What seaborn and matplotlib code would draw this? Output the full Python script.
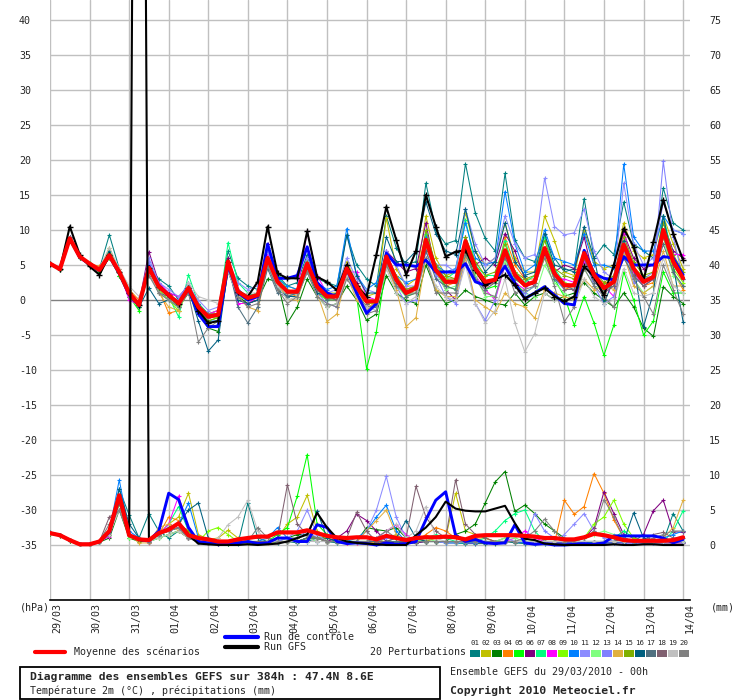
import matplotlib
matplotlib.use("Agg")
import matplotlib.pyplot as plt
import seaborn as sns
import pandas as pd
from matplotlib.lines import Line2D
from matplotlib.patches import Rectangle

sns.set_theme(style="white")
plt.rcParams["font.family"] = ["DejaVu Sans Mono", "DejaVu Sans"]

# ---------------- data ----------------
hours = list(range(0, 385, 6))
day_labels = ["29/03", "30/03", "31/03", "01/04", "02/04", "03/04", "04/04", "05/04",
              "06/04", "07/04", "08/04", "09/04", "10/04", "11/04", "12/04", "13/04", "14/04"]
pert_names = ["01", "02", "03", "04", "05", "06", "07", "08", "09", "10",
              "11", "12", "13", "14", "15", "16", "17", "18", "19", "20"]
pert_colors = ["#008080", "#c0c000", "#008000", "#ff8000", "#00ff00", "#800080", "#00ff80",
               "#ff00ff", "#80ff00", "#0080ff", "#8c8cff", "#80ff80", "#8080ff", "#e0b040",
               "#80b000", "#006080", "#507080", "#806070", "#c0c0c0", "#808080"]

# temperature 2m (°C), 6-hourly
temp_mean = [5.2,4.4,8.8,6.2, 5.2,4.3,6.4,4.0, 1.0,-0.7,4.6,1.9, 0.7,-0.5,1.7,-1.0,
             -2.4,-2.1,5.5,1.2, 0.3,0.7,6.0,2.6, 1.2,1.2,5.2,1.9, 0.5,0.5,4.5,1.9,
             -0.2,-0.2,6.2,2.9, 1.0,1.7,8.6,4.3, 2.6,2.6,8.4,4.5, 2.6,2.9,7.1,3.6,
             2.1,2.6,7.4,3.8, 2.1,2.1,6.7,3.6, 1.7,2.6,7.9,4.5, 2.6,3.3,10.0,5.5, 3.1]
temp_ctrl = [5.2,4.4,8.8,6.1, 5.1,4.2,6.3,3.8, 0.8,-0.8,4.8,2.0, 0.6,-0.5,1.6,-2.0,
             -3.8,-3.8,5.0,1.0, 0.0,0.5,8.0,3.1, 3.1,3.5,7.6,2.5, 1.0,0.5,4.5,1.0,
             -1.9,-0.5,6.7,5.0, 5.0,4.8,5.7,4.0, 4.0,4.0,5.2,2.6, 2.1,2.9,4.8,2.4,
             0.2,1.0,1.9,0.7, -0.5,-0.7,7.1,3.8, 3.1,2.9,6.2,5.0, 5.0,5.0,6.2,6.0, 3.6]
temp_gfs = [5.2,4.4,10.5,6.5, 4.8,3.6,6.4,4.0, 1.0,-0.7,4.6,1.9, 0.7,-0.5,1.7,-1.5,
            -3.3,-3.0,5.5,1.2, 0.5,2.6,10.5,3.8, 3.1,3.1,9.8,3.3, 2.6,1.4,5.0,2.0,
            0.5,6.5,13.3,8.6, 3.6,7.0,15.0,10.5, 6.2,6.9,7.1,4.3, 2.1,2.9,3.6,2.1,
            0.2,1.0,1.7,0.5, -0.2,0.5,4.8,3.3, 0.7,5.0,10.2,7.6, 2.9,8.3,14.3,9.5, 5.7]

temp_p01 = [5.2,4.5,9.0,6.0, 5.0,4.5,9.3,4.5, 1.5,-0.5,5.0,3.0, 2.0,0.0,2.5,-1.0,
            -2.0,-1.5,7.0,3.1, 2.0,1.5,7.5,3.5, 2.0,2.5,6.5,3.0, 2.5,2.0,9.3,5.0,
            3.0,2.0,12.0,7.5, 5.0,5.5,16.7,10.0, 8.0,8.5,19.5,12.4, 8.8,7.0,18.1,8.6,
            6.0,5.5,9.0,6.0, 4.0,4.5,14.5,6.0, 7.9,6.5,14.0,8.0, 7.0,6.0,16.0,11.0, 10.0]
temp_p02 = [5.2,4.5,8.5,6.0, 5.0,4.2,7.5,4.0, 1.0,-0.5,4.5,2.0, 1.0,-1.0,2.0,-0.5,
            -2.0,-1.5,5.0,1.5, 0.5,1.0,6.5,3.0, 2.0,1.5,6.0,2.5, 1.0,1.0,5.5,2.5,
            0.5,1.0,11.7,4.5, 2.0,3.0,12.0,6.0, 3.5,4.0,12.5,7.0, 5.0,6.0,11.0,6.0,
            4.0,4.0,12.0,8.5, 4.0,3.5,10.0,5.5, 4.5,5.0,11.0,7.0, 6.0,6.5,12.0,8.0, 4.5]
temp_p03 = [5.2,4.3,8.5,6.0, 5.0,4.0,6.0,3.5, 0.5,-1.0,4.0,1.0, 0.0,-1.0,1.0,-2.0,
            -4.0,-4.5,4.0,0.5, -0.5,0.0,3.0,2.6, -3.3,-1.0,3.0,0.5, -1.0,-0.5,2.0,0.0,
            -2.9,-2.0,3.5,1.0, 0.0,-0.5,5.0,1.5, -0.5,0.0,1.4,0.5, 0.0,-0.5,-0.7,1.0,
            -0.7,0.5,1.0,0.0, 0.5,1.0,2.5,1.0, 0.0,-1.0,1.0,-1.0, -4.0,-5.2,1.9,0.5, -0.5]
temp_p04 = [5.2,4.4,8.8,6.2, 5.2,4.8,6.5,4.5, 1.5,0.0,4.0,1.5, -1.9,-1.5,2.0,-1.0,
            -2.5,-2.0,5.0,1.0, 0.0,0.5,5.5,2.5, 1.0,0.5,4.5,1.5, 0.5,0.0,4.0,2.0,
            -1.5,0.0,5.5,3.0, 0.5,1.5,7.5,4.0, 2.0,2.5,8.0,4.0, 2.0,2.5,9.0,5.0,
            3.0,3.0,6.0,4.0, 1.5,2.0,5.5,3.0, 2.5,2.5,7.0,4.0, 2.0,2.5,9.0,4.0, 1.5]
temp_p05 = [5.2,4.5,8.8,6.3, 5.3,4.0,7.0,3.5, 0.5,-1.5,4.5,2.0, 0.5,-1.0,2.0,-1.5,
            -3.0,-2.5,6.0,1.0, 0.5,1.0,5.5,2.0, 0.5,0.5,4.5,1.0, 0.0,1.0,4.0,0.5,
            -9.8,-4.5,5.0,2.0, 1.5,2.0,9.0,4.0, 2.0,1.5,7.0,3.0, 1.5,2.0,6.0,2.5,
            1.0,2.0,7.0,3.0, 0.5,-3.6,0.5,-3.3, -7.9,-3.6,4.0,0.0, -5.0,-3.0,4.0,1.0, 1.0]
temp_p06 = [5.2,4.4,9.0,6.3, 5.2,4.5,6.5,4.0, 1.0,-0.5,6.9,2.5, 1.0,0.5,2.0,-0.5,
            -2.0,-2.0,6.0,0.0, -0.5,0.0,8.0,3.0, 1.0,1.5,6.0,2.5, 0.5,0.0,5.0,2.5,
            0.0,-0.5,7.0,5.5, 4.0,4.5,11.0,4.0, 1.5,0.0,9.0,5.0, 6.0,5.0,9.5,7.0,
            3.0,2.0,6.5,4.0, 5.0,4.5,9.0,3.0, 0.5,3.5,9.5,6.0, 4.5,5.0,11.0,7.0, 6.0]
temp_p07 = [5.2,4.4,8.7,6.2, 5.2,4.4,6.8,4.0, 1.0,-1.0,5.0,1.5, 0.5,-2.4,3.6,-0.5,
            -2.0,-2.0,8.2,2.5, 1.0,0.5,6.5,3.5, 1.5,1.0,5.5,2.0, 0.0,0.5,4.5,2.0,
            0.0,-0.5,6.5,3.0, 1.0,2.0,9.5,5.0, 3.0,4.0,11.5,5.0, 3.5,3.5,8.5,4.0,
            2.5,3.5,9.0,4.5, 2.5,2.0,6.0,3.5, 2.0,2.5,7.5,4.0, 3.0,3.5,12.0,6.0, 3.0]
temp_p08 = [5.2,4.4,8.8,6.2, 5.2,4.4,6.5,4.0, 0.0,-0.7,5.0,2.5, 1.0,0.5,1.5,-1.0,
            -2.0,-1.5,5.0,-0.5, -0.5,0.5,6.5,2.5, 1.0,1.5,9.8,3.5, 1.0,0.5,4.0,4.0,
            0.5,0.0,7.0,3.0, 1.5,2.0,8.0,4.5, 3.0,3.0,8.0,3.5, 1.5,0.0,5.0,2.5,
            1.5,3.0,7.5,3.0, 3.0,2.5,5.5,3.5, 2.0,0.5,10.0,4.0, 2.0,3.0,9.0,6.5, 6.5]
temp_p09 = [5.2,4.4,8.8,6.2, 5.2,4.4,6.0,4.0, 1.0,-1.0,4.0,1.5, 0.0,-1.5,1.5,-1.5,
            -2.5,-2.0,5.0,0.5, 0.0,0.5,5.0,2.0, 0.5,1.0,4.5,1.0, 0.0,0.0,3.5,1.5,
            -0.5,-0.5,6.0,3.0, 0.5,1.0,8.0,4.5, 3.0,3.0,7.5,4.0, 2.5,3.0,7.0,3.0,
            2.0,2.5,6.0,3.0, 2.5,2.0,6.5,4.0, 1.0,3.0,7.0,4.5, 3.5,3.0,9.0,4.5, 2.5]
temp_p10 = [5.2,4.4,8.8,6.2, 5.2,4.4,6.5,4.0, 1.0,-0.5,5.0,2.0, 0.5,0.0,2.0,-0.5,
            -3.0,-3.0,5.5,1.5, 0.5,1.0,6.0,3.0, 2.0,1.5,6.0,2.5, 1.5,2.0,10.2,3.5,
            1.5,2.5,6.5,3.5, 2.5,3.0,9.0,5.0, 4.0,4.5,11.0,6.0, 5.0,5.5,15.5,8.0,
            4.0,5.0,10.0,6.0, 5.5,5.0,9.5,5.0, 5.0,4.5,19.4,9.0, 7.0,7.0,12.0,10.0, 9.5]
temp_p11 = [5.2,4.4,8.8,6.2, 5.2,4.4,6.5,4.0, 1.0,-0.5,6.0,2.5, 1.5,0.5,2.0,0.0,
            -1.5,-1.0,5.5,2.5, 1.5,2.0,7.0,2.5, 1.0,1.5,6.0,2.0, 1.0,1.5,6.0,3.0,
            1.5,1.0,7.0,5.0, 2.0,2.0,8.0,5.0, 5.0,4.0,13.0,8.0, 5.0,6.0,12.0,8.0,
            6.0,6.5,17.4,10.5, 9.3,9.6,13.0,7.0, 4.0,3.0,16.7,8.0, 5.0,6.0,14.0,10.0, 9.5]
temp_p12 = [5.2,4.4,8.8,6.2, 5.2,4.4,6.5,4.0, 1.0,-1.0,4.5,1.5, 0.5,-0.5,1.5,-1.0,
            -2.5,-2.5,5.0,1.0, 0.0,0.5,5.5,2.0, 0.5,1.0,5.0,2.0, 0.5,0.5,4.0,1.5,
            0.0,0.0,5.5,2.0, 0.5,1.5,8.0,4.0, 1.5,2.0,7.0,3.5, 0.5,0.5,5.5,2.0,
            1.0,0.5,5.0,2.5, 1.0,0.0,4.5,2.0, 1.5,2.0,6.5,3.0, 1.0,2.0,9.0,3.5, 2.0]
temp_p13 = [5.2,4.4,8.8,6.2, 5.2,4.4,6.5,4.0, 1.0,-0.5,5.5,2.0, 0.5,0.0,2.5,-1.0,
            -2.5,-2.0,5.5,1.5, 0.0,0.5,6.0,2.0, 0.5,1.0,5.0,1.0, -0.5,-1.0,4.0,0.5,
            -1.5,-1.0,5.0,2.0, -0.5,0.0,7.0,3.5, 0.5,-0.5,6.0,-0.5, -2.9,0.0,6.5,2.0,
            1.0,2.0,7.0,3.0, 1.5,1.5,6.0,2.0, -0.5,0.5,7.0,2.5, 3.0,4.0,19.8,9.0, 3.0]
temp_p14 = [5.2,4.4,8.8,6.2, 5.2,4.4,6.5,3.8, 1.5,-0.5,4.0,1.0, -1.0,-1.5,2.0,-1.0,
            -2.0,-2.0,4.5,0.5, -1.0,-1.5,5.0,2.5, 0.0,0.0,4.5,1.0, -3.1,-2.0,3.5,0.0,
            -1.0,-0.5,5.0,1.5, -3.8,-2.5,6.0,1.5, 0.5,0.5,6.0,0.0, -1.0,-1.9,1.0,-0.5,
            -1.0,-2.6,1.5,1.0, 0.5,0.0,3.0,1.5, 2.0,1.5,6.5,2.0, 1.0,2.0,7.0,2.0, 2.0]
temp_p15 = [5.2,4.4,8.8,6.2, 5.2,4.4,6.5,4.0, 1.0,-1.0,4.5,2.0, 0.5,-0.5,1.5,-1.5,
            -3.0,-2.5,5.0,1.0, 0.5,1.0,5.5,2.5, 1.0,1.0,5.5,2.0, 1.0,0.5,4.5,2.0,
            -0.5,0.0,6.5,3.5, 1.5,2.0,10.0,5.0, 3.5,3.0,9.0,5.5, 3.5,4.0,8.0,4.0,
            3.0,3.5,8.5,4.5, 3.5,3.0,7.0,4.0, 2.5,3.5,9.0,5.5, 3.5,4.0,11.0,6.5, 4.0]
temp_p16 = [5.2,4.4,8.8,6.2, 5.2,4.4,7.0,4.0, 1.0,-1.0,1.7,-0.5, 0.0,-1.0,1.5,-3.0,
            -7.3,-5.7,4.5,0.0, -0.5,0.0,5.0,1.5, 0.5,0.5,4.0,1.0, 0.5,1.0,9.3,3.5,
            1.0,1.0,9.0,5.5, 5.5,7.0,14.0,9.5, 7.0,6.5,13.0,7.0, 4.0,5.5,11.0,5.5,
            3.5,4.0,9.5,5.0, 4.5,4.0,10.5,6.0, -0.5,3.0,8.5,5.0, -3.8,1.0,12.0,5.0, -3.1]
temp_p17 = [5.2,4.4,8.8,6.2, 5.2,4.4,6.5,4.0, 1.0,-0.5,4.0,1.0, 0.5,-0.5,1.0,-1.0,
            -4.0,-3.5,5.0,-1.0, -3.3,-1.0,4.5,1.0, 0.5,1.0,4.5,1.5, 0.0,0.0,4.0,1.0,
            -1.0,-1.0,5.5,2.5, 0.5,1.0,7.0,3.0, 2.0,1.5,7.5,3.0, 1.5,2.5,7.0,3.0,
            2.0,2.5,7.0,3.0, 2.0,1.5,6.0,2.5, 1.5,2.0,6.0,3.5, 2.0,3.0,8.0,4.0, 2.0]
temp_p18 = [5.2,4.4,8.8,6.2, 5.2,4.4,6.5,4.0, 1.0,-0.5,4.5,2.0, 0.5,-0.5,1.5,-1.0,
            -2.0,-2.0,5.5,1.0, 0.5,0.5,6.0,2.5, 1.0,1.0,5.0,1.5, 0.5,0.0,4.5,1.5,
            -0.5,0.0,6.0,3.0, 1.0,1.5,8.5,4.0, 2.5,2.5,8.0,4.5, 2.5,3.0,6.0,3.5,
            2.0,2.5,7.5,3.5, 1.5,1.5,6.0,3.0, 1.0,2.0,7.5,3.5, 2.0,3.0,9.0,5.0, 3.0]
temp_p19 = [5.2,4.4,8.8,6.2, 5.2,4.6,7.5,4.5, 2.0,0.5,4.0,1.0, 0.0,-1.0,2.5,0.5,
            0.0,-0.5,4.0,0.5, 1.0,1.0,5.0,2.0, 0.0,0.5,4.0,0.5, -1.0,-0.5,3.5,0.5,
            -1.0,-1.5,4.5,1.0, -0.5,0.5,6.0,2.0, 0.5,0.0,5.0,-0.5, -3.3,-1.5,3.0,-3.3,
            -7.4,-4.8,1.0,0.0, 0.0,-1.0,3.0,0.5, -0.5,0.0,4.5,1.0, 0.5,1.0,6.0,2.0, 1.0]
temp_p20 = [5.2,4.4,8.8,6.2, 5.2,4.4,6.5,4.0, 1.0,-0.5,3.5,1.0, 0.0,-1.0,1.0,-6.0,
            -4.0,-3.0,4.5,0.5, -1.0,-0.5,5.0,1.5, -0.5,0.5,4.0,0.5, -0.5,-1.0,3.0,1.0,
            -2.0,-1.5,5.0,2.0, 1.0,1.0,6.0,1.0, 1.0,1.0,6.5,3.0, 1.0,0.5,5.0,1.0,
            1.5,2.0,6.0,2.0, -3.1,-1.0,4.5,2.0, 0.5,-1.0,8.0,3.0, 0.5,-2.0,5.0,1.5, -2.0]

# precipitation (mm / 6h)
prec_mean = [1.7,1.4,0.7,0.1, 0.1,0.5,2.0,7.1, 1.4,0.8,0.7,1.7, 2.2,3.1,1.4,1.0,
             0.8,0.5,0.5,0.8, 1.0,1.2,1.2,1.8, 1.8,1.8,2.1,1.7, 1.3,1.1,1.0,1.1,
             1.1,0.8,1.3,1.0, 0.7,1.0,1.1,1.1, 1.2,1.1,0.8,1.3, 1.4,1.4,1.4,1.4,
             1.3,1.2,1.0,1.0, 0.8,0.8,1.1,1.6, 1.4,1.1,0.7,0.6, 0.6,0.6,0.6,0.7, 1.1]
prec_ctrl = [1.7,1.4,0.7,0.1, 0.1,0.5,1.8,7.0, 1.4,0.8,0.6,2.0, 7.4,6.5,2.5,0.5,
             0.3,0.2,0.3,0.3, 0.5,0.2,0.3,1.0, 1.0,0.5,0.5,2.9, 2.5,0.5,0.2,0.3,
             0.2,0.0,0.3,0.1, 0.2,0.5,3.6,6.4, 7.6,1.4,0.5,0.8, 0.3,0.2,0.3,2.9,
             0.3,0.1,0.2,0.0, 0.0,0.1,0.2,0.1, 0.3,1.3,1.3,1.3, 1.3,1.3,1.0,0.3, 0.8]
prec_gfs = [1.7,1.4,0.7,0.1, 0.1,0.5,2.0,7.1, 1.4,257.0,0.7,1.7, 2.2,3.1,1.4,0.2,
            0.1,0.0,0.0,0.0, 0.1,0.0,0.1,0.2, 0.5,1.0,1.5,4.6, 2.5,1.0,0.5,0.3,
            0.2,0.1,0.0,0.0, 0.0,1.4,2.5,4.0, 6.2,5.2,4.9,4.8, 4.8,5.2,5.6,3.1,
            0.9,0.7,0.2,0.1, 0.0,0.0,0.0,0.0, 0.0,0.1,0.0,0.0, 0.1,0.1,0.0,0.0, 0.0]

prec_p01 = [1.8,1.5,0.6,0.1, 0.1,0.5,2.0,8.0, 4.3,1.0,4.5,2.0, 1.0,2.0,1.0,0.5,
            0.3,0.2,0.2,0.2, 6.0,1.0,0.5,0.3, 0.5,0.3,0.5,1.0, 0.5,0.3,0.3,0.5,
            0.3,0.2,0.5,0.3, 0.2,0.3,0.5,0.5, 0.3,0.3,0.2,0.2, 0.2,0.2,0.5,0.3,
            0.2,0.1,0.2,0.1, 0.2,0.3,0.5,0.5, 0.5,0.5,1.0,0.5, 1.5,0.5,0.5,4.5, 2.0]
prec_p02 = [1.6,1.3,0.6,0.1, 0.1,0.6,1.5,6.0, 1.5,0.8,0.5,1.5, 3.0,4.0,7.4,1.5,
            0.8,1.0,2.1,1.0, 0.5,0.3,0.5,1.0, 3.0,4.0,7.1,2.0, 0.5,0.5,0.5,0.5,
            0.3,0.3,1.0,1.5, 0.5,0.5,0.5,1.0, 1.0,7.4,2.0,1.5, 1.0,0.5,0.5,0.5,
            0.3,0.3,0.5,0.5, 0.3,0.3,0.5,0.3, 0.3,0.5,0.5,0.5, 0.3,0.3,0.3,0.3, 0.3]
prec_p03 = [1.6,1.3,0.6,0.1, 0.1,0.4,1.0,5.0, 1.0,0.5,0.5,1.0, 1.5,2.0,1.0,0.5,
            0.3,0.2,0.2,0.3, 0.5,0.5,0.5,1.0, 1.0,1.5,1.5,1.0, 1.0,0.5,0.5,0.5,
            2.5,2.2,2.0,2.5, 1.0,1.0,0.5,0.5, 0.5,1.5,2.0,3.0, 6.0,9.0,10.5,4.8,
            5.7,4.5,3.0,2.0, 1.0,0.5,0.5,0.3, 0.3,0.3,0.5,0.5, 0.3,0.3,0.3,0.3, 0.3]
prec_p04 = [1.7,1.4,0.7,0.1, 0.1,0.5,1.5,6.5, 1.5,1.0,0.5,1.5, 4.0,3.5,1.0,0.5,
            0.3,0.2,0.3,0.3, 0.5,0.5,0.5,0.5, 0.5,0.5,1.0,1.0, 0.5,0.5,0.3,0.3,
            0.3,0.3,0.5,0.5, 0.5,0.5,1.5,2.5, 2.0,1.0,0.5,1.0, 1.0,0.5,0.5,0.5,
            0.5,0.5,0.5,0.3, 6.4,4.4,5.5,10.2, 7.4,3.6,1.0,0.5, 0.5,0.3,0.3,0.3, 0.3]
prec_p05 = [1.7,1.4,0.7,0.1, 0.1,0.5,1.5,6.0, 1.0,0.8,0.5,1.0, 1.5,2.0,1.5,0.5,
            0.3,0.3,0.5,0.5, 0.5,0.5,0.5,1.5, 2.5,7.0,12.9,3.0, 1.5,1.0,0.5,0.5,
            0.5,0.5,0.5,0.3, 0.3,0.5,0.5,0.5, 0.5,0.3,0.3,0.3, 0.3,0.3,0.5,0.5,
            0.5,0.3,0.3,0.5, 0.3,0.3,0.3,0.5, 0.5,0.5,0.5,0.5, 0.3,0.3,0.3,0.3, 0.5]
prec_p06 = [1.7,1.4,0.7,0.1, 0.1,0.5,1.5,7.0, 1.5,0.8,0.5,1.5, 2.0,2.5,1.0,0.5,
            0.3,0.3,0.3,0.3, 0.5,0.3,0.5,0.5, 0.5,0.5,1.0,1.0, 0.5,1.0,2.0,4.4,
            3.5,2.0,0.5,0.3, 0.3,0.3,0.5,0.5, 0.5,0.5,0.3,0.3, 0.3,0.3,0.5,0.5,
            0.3,0.3,0.3,0.3, 0.3,0.5,1.0,2.5, 7.6,4.5,1.5,1.0, 1.5,4.9,6.4,1.9, 1.8]
prec_p07 = [1.7,1.4,0.7,0.1, 0.1,0.5,1.5,6.5, 1.5,0.8,0.5,1.5, 3.0,5.5,2.0,0.5,
            0.3,0.3,0.3,0.5, 0.5,0.5,0.5,0.5, 0.5,0.5,1.0,1.0, 0.5,0.5,0.5,0.5,
            0.5,0.5,0.5,0.5, 0.5,0.5,1.0,1.5, 1.0,0.5,0.5,0.5, 1.0,2.0,3.5,4.5,
            5.0,2.0,0.5,0.5, 0.5,0.5,0.5,0.5, 0.5,1.0,2.0,1.0, 0.5,0.5,0.5,2.0, 4.9]
prec_p08 = [1.7,1.4,0.7,0.1, 0.1,0.5,1.2,6.0, 1.5,0.8,0.3,1.5, 3.0,7.0,2.5,0.5,
            0.3,0.2,0.3,0.3, 0.3,0.3,0.5,0.5, 0.5,0.5,1.0,0.5, 0.5,0.5,0.3,0.3,
            0.5,1.0,2.0,2.9, 1.5,0.5,0.5,0.5, 0.5,0.5,0.3,0.3, 0.5,0.5,0.5,1.0,
            2.0,1.0,0.5,0.3, 0.3,0.3,0.5,0.5, 0.3,0.3,0.3,0.3, 0.3,0.3,0.3,0.3, 0.3]
prec_p09 = [1.7,1.4,0.7,0.1, 0.1,0.5,1.5,6.5, 1.5,0.8,0.5,1.5, 2.0,3.0,2.0,0.5,
            2.0,2.5,1.5,0.5, 0.3,0.5,0.5,0.5, 1.0,1.0,1.5,1.0, 0.5,0.5,0.5,0.5,
            0.5,0.5,0.5,0.5, 0.5,0.5,0.5,0.5, 0.5,0.5,0.3,0.5, 0.5,0.5,1.0,1.5,
            1.0,0.5,0.5,0.5, 0.5,0.5,1.0,3.0, 4.0,6.4,3.0,1.0, 0.5,0.5,0.5,0.5, 0.5]
prec_p10 = [1.7,1.4,0.7,0.1, 0.1,0.5,2.0,9.3, 2.0,1.0,0.5,1.5, 2.5,3.0,6.0,1.0,
            0.3,0.2,0.3,0.3, 0.5,0.5,1.0,2.5, 1.0,0.5,0.5,0.5, 0.5,0.5,0.5,1.0,
            2.0,4.0,5.7,2.0, 0.5,0.5,0.5,0.5, 0.3,0.3,0.3,0.3, 0.5,0.5,0.5,0.5,
            0.3,0.3,0.3,0.3, 0.3,0.3,0.3,0.3, 0.3,0.3,0.3,0.3, 0.3,0.3,1.0,1.5, 2.0]
prec_p11 = [1.7,1.4,0.7,0.1, 0.1,0.5,1.5,6.5, 1.5,0.8,0.5,1.5, 2.0,2.5,1.0,0.5,
            0.3,0.3,0.3,0.3, 0.3,0.3,0.5,0.5, 1.0,2.0,5.0,1.5, 0.5,0.5,0.5,0.5,
            2.0,5.0,9.8,4.0, 1.0,0.5,0.5,0.5, 0.3,0.3,0.5,0.5, 0.5,0.5,1.0,0.5,
            0.5,0.3,0.3,0.5, 1.5,3.0,4.5,2.0, 1.0,0.5,0.5,0.5, 0.3,0.3,0.3,0.3, 0.3]
prec_p12 = [1.7,1.4,0.7,0.1, 0.1,0.5,1.5,6.0, 1.0,0.8,0.5,1.0, 1.5,2.0,1.5,0.5,
            0.3,0.3,0.3,0.3, 0.3,0.3,0.5,0.5, 0.5,0.5,1.0,0.5, 0.5,0.5,0.5,0.5,
            0.5,0.5,0.5,0.5, 0.5,0.5,1.0,0.5, 0.5,0.5,0.5,0.5, 0.5,0.5,1.0,1.0,
            0.5,0.5,0.5,0.5, 0.5,0.5,1.0,1.5, 2.0,1.5,1.0,0.5, 0.5,0.5,0.5,0.5, 0.5]
prec_p13 = [1.7,1.4,0.7,0.1, 0.1,0.5,1.5,7.0, 1.5,0.8,0.5,1.5, 2.5,3.0,1.0,0.5,
            0.3,0.3,0.3,0.3, 0.5,0.5,0.5,0.5, 1.0,1.0,2.0,1.0, 0.5,0.5,0.5,0.5,
            0.5,0.5,1.0,1.0, 0.5,0.5,0.5,0.5, 0.5,0.5,0.5,0.5, 0.5,0.5,0.5,0.5,
            0.5,4.5,2.0,1.0, 0.5,0.5,0.5,0.5, 0.5,0.5,0.5,0.5, 0.5,0.5,0.5,0.5, 0.5]
prec_p14 = [1.7,1.4,0.7,0.1, 0.1,0.5,1.5,6.0, 1.5,0.3,0.3,2.5, 3.0,2.0,1.0,0.5,
            0.3,0.3,0.3,0.3, 0.3,0.3,0.3,0.5, 0.5,1.0,1.5,1.0, 0.5,0.5,0.5,0.5,
            2.0,3.5,5.0,1.5, 0.5,0.5,0.5,0.5, 0.5,0.5,0.5,0.5, 0.5,0.5,0.5,0.5,
            0.5,0.5,0.5,0.5, 0.5,0.5,0.5,0.5, 0.5,0.5,0.5,0.5, 0.5,0.5,1.0,2.5, 6.4]
prec_p15 = [1.7,1.4,0.7,0.1, 0.1,0.5,1.5,6.0, 1.5,0.8,0.5,1.5, 2.5,3.0,2.0,0.5,
            0.3,0.3,0.3,0.3, 0.3,0.5,0.5,0.5, 0.5,0.5,1.0,1.0, 0.5,0.5,0.5,0.5,
            0.5,0.5,0.5,0.5, 0.5,0.5,0.5,0.5, 0.5,0.5,0.5,0.5, 0.5,0.5,0.5,0.5,
            0.5,0.5,0.5,0.5, 0.5,0.5,0.5,0.5, 0.5,0.5,0.5,0.5, 0.5,0.5,0.5,0.5, 0.5]
prec_p16 = [1.7,1.4,0.7,0.1, 0.1,0.5,2.0,8.0, 3.0,1.0,0.5,1.5, 2.5,3.0,5.0,6.0,
            1.0,0.3,0.3,0.3, 0.5,0.5,0.5,0.5, 0.5,0.5,1.0,4.9, 1.0,0.5,0.5,0.5,
            0.5,0.5,0.5,1.0, 3.5,1.0,0.5,0.5, 0.5,0.5,0.5,0.5, 0.5,0.5,0.5,0.5,
            0.5,0.5,0.5,0.5, 0.5,0.5,0.5,0.5, 0.5,0.5,0.5,4.6, 1.0,0.5,0.5,0.5, 0.5]
prec_p17 = [1.7,1.4,0.7,0.1, 0.1,0.5,1.5,6.0, 1.5,0.8,0.5,1.5, 2.0,2.5,1.0,0.5,
            0.3,0.3,0.3,0.3, 0.5,0.5,0.5,0.5, 0.5,0.5,1.0,1.0, 0.5,0.5,0.5,0.5,
            0.5,0.5,0.5,0.5, 0.5,0.5,0.5,0.5, 0.5,0.5,0.5,0.5, 0.5,0.5,0.5,0.5,
            0.5,0.5,0.5,0.5, 0.5,0.5,0.5,0.5, 0.5,0.5,0.5,0.5, 0.5,0.5,0.5,0.5, 0.5]
prec_p18 = [1.7,1.4,0.7,0.1, 0.1,0.5,4.0,5.0, 1.5,0.8,0.5,1.5, 2.0,2.5,1.0,0.5,
            0.3,0.3,0.3,0.3, 0.5,0.5,0.5,1.0, 8.6,3.0,1.5,1.0, 0.5,0.5,1.0,4.7,
            2.0,0.5,0.5,1.0, 1.0,8.4,4.0,2.0, 1.0,9.3,3.0,1.5, 1.0,0.5,0.5,0.5,
            0.5,0.5,0.5,0.5, 0.5,0.5,0.5,0.5, 0.5,0.5,1.0,0.5, 0.5,1.5,1.8,1.0, 1.0]
prec_p19 = [1.7,1.4,0.7,0.1, 0.1,0.5,1.5,5.0, 1.5,0.8,0.5,1.0, 1.5,2.0,1.0,0.5,
            0.5,1.0,2.9,4.0, 6.4,2.0,0.5,0.5, 0.5,0.5,0.5,0.5, 0.5,0.5,0.5,0.5,
            0.5,1.0,2.0,3.0, 1.0,2.0,5.5,1.0, 0.5,0.5,0.5,0.5, 0.5,0.5,0.5,0.5,
            0.5,0.5,0.5,0.5, 0.5,0.5,0.5,0.5, 0.5,0.5,0.5,0.5, 0.5,0.5,0.5,0.5, 0.5]
prec_p20 = [1.7,1.4,0.7,0.1, 0.1,0.5,3.0,5.0, 1.5,0.8,0.5,1.5, 2.0,2.5,1.0,0.5,
            0.3,0.3,0.3,0.3, 0.5,2.5,1.0,0.5, 0.5,1.0,1.5,1.0, 0.5,0.5,0.5,0.5,
            0.5,1.0,2.0,1.0, 0.5,0.5,0.5,0.5, 0.5,0.5,0.5,0.5, 0.5,0.5,0.5,0.5,
            1.0,2.0,3.7,2.0, 0.5,0.5,1.0,2.0, 6.5,4.0,1.0,0.5, 0.5,1.0,1.5,2.0, 2.0]

temp_members = [temp_p01, temp_p02, temp_p03, temp_p04, temp_p05, temp_p06, temp_p07,
                temp_p08, temp_p09, temp_p10, temp_p11, temp_p12, temp_p13, temp_p14,
                temp_p15, temp_p16, temp_p17, temp_p18, temp_p19, temp_p20]
prec_members = [prec_p01, prec_p02, prec_p03, prec_p04, prec_p05, prec_p06, prec_p07,
                prec_p08, prec_p09, prec_p10, prec_p11, prec_p12, prec_p13, prec_p14,
                prec_p15, prec_p16, prec_p17, prec_p18, prec_p19, prec_p20]

# ---------------- figure ----------------
W, H = 740, 700
fig = plt.figure(figsize=(W / 100, H / 100), dpi=100)
fig.patch.set_facecolor("white")
ax = fig.add_axes([50 / W, 100 / H, 640 / W, 600 / H])
ylim = (-300 / 7, 300 / 7)
ax.set_xlim(0, 384)
ax.set_ylim(*ylim)
ax2 = ax.twinx()
ax2.set_ylim(ylim[0] + 35, ylim[1] + 35)
ax2.set_xlim(0, 384)

FS = 7.2
# grid
for v in range(-35, 41, 5):
    ax.axhline(v, color="#808080" if v == 0 else "#c0c0c0", lw=1.0, zorder=0.5)
for d in range(17):
    ax.axvline(24 * d, color="#c0c0c0", lw=1.0, zorder=0.5)

for s in ["top", "left", "right"]:
    ax.spines[s].set_visible(False)
    ax2.spines[s].set_visible(False)
ax.spines["bottom"].set_color("black")
ax.spines["bottom"].set_linewidth(1.2)
ax2.spines["bottom"].set_visible(False)

# members
for t, p, c in zip(temp_members, prec_members, pert_colors):
    sns.lineplot(x=hours, y=t, color=c, lw=0.75, marker="+", ms=3.5, mec=c, mew=0.8,
                 estimator=None, sort=False, ax=ax, zorder=2)
    sns.lineplot(x=hours, y=p, color=c, lw=0.75, marker="+", ms=3.5, mec=c, mew=0.8,
                 estimator=None, sort=False, ax=ax2, zorder=2)

# control, GFS, mean
sns.lineplot(x=hours, y=temp_ctrl, color="#0000ff", lw=2.1, estimator=None, sort=False, ax=ax, zorder=3)
sns.lineplot(x=hours, y=temp_gfs, color="black", lw=1.5, marker="+", ms=4, mec="black", mew=1,
             estimator=None, sort=False, ax=ax, zorder=4)
sns.lineplot(x=hours, y=temp_mean, color="#ff0000", lw=3.0, estimator=None, sort=False, ax=ax, zorder=5)
sns.lineplot(x=hours, y=prec_ctrl, color="#0000ff", lw=2.1, estimator=None, sort=False, ax=ax2, zorder=3)
sns.lineplot(x=hours, y=prec_gfs, color="black", lw=1.5, estimator=None, sort=False, ax=ax2, zorder=4)
sns.lineplot(x=hours, y=prec_mean, color="#ff0000", lw=3.0, estimator=None, sort=False, ax=ax2, zorder=5)

# ticks
ax.set_yticks(list(range(-35, 41, 5)))
ax.set_yticklabels([str(v) for v in range(-35, 41, 5)], ha="left", fontsize=FS)
ax.tick_params(axis="y", length=0, pad=31 * 0.72)
ax2.set_yticks(list(range(0, 76, 5)))
ax2.set_yticklabels([str(v) for v in range(0, 76, 5)], fontsize=FS)
ax2.tick_params(axis="y", length=0, pad=19 * 0.72)
ax.set_xticks([24 * d + 4.2 for d in range(17)])
ax.set_xticklabels(day_labels, rotation=90, fontsize=FS)
ax.tick_params(axis="x", length=0, pad=2.2)
ax.set_xlabel("")
ax.set_ylabel("")
ax2.set_ylabel("")
ax.grid(False)
ax2.grid(False)

def fx(px):
    return px / W

def fy(py):
    return 1 - py / H

fig.text(fx(20), fy(607), "(hPa)", fontsize=FS, va="center", ha="left")
fig.text(fx(711), fy(607), "(mm)", fontsize=FS, va="center", ha="left")

# legend
fig.add_artist(Line2D([fx(225), fx(258)], [fy(637), fy(637)], color="#0000ff", lw=3, transform=fig.transFigure))
fig.add_artist(Line2D([fx(225), fx(258)], [fy(647), fy(647)], color="black", lw=3, transform=fig.transFigure))
fig.add_artist(Line2D([fx(35), fx(65)], [fy(652), fy(652)], color="#ff0000", lw=3, transform=fig.transFigure))
fig.text(fx(264), fy(637), "Run de contrôle", fontsize=FS, va="center", ha="left")
fig.text(fx(264), fy(647), "Run GFS", fontsize=FS, va="center", ha="left")
fig.text(fx(74), fy(652), "Moyenne des scénarios", fontsize=FS, va="center", ha="left")
fig.text(fx(370), fy(652), "20 Perturbations", fontsize=FS, va="center", ha="left")
for i, (nm, c) in enumerate(zip(pert_names, pert_colors)):
    x0 = 470 + 11 * i
    fig.add_artist(Rectangle((fx(x0), fy(657)), 10 / W, 7 / H, facecolor=c, edgecolor="none",
                             transform=fig.transFigure))
    fig.text(fx(x0 + 5), fy(643), nm, fontsize=5.3, va="center", ha="center")

# info box
fig.add_artist(Rectangle((fx(20), fy(699)), 420 / W, 32 / H, facecolor="none", edgecolor="black",
                         lw=1.3, transform=fig.transFigure))
fig.text(fx(30), fy(677), "Diagramme des ensembles GEFS sur 384h : 47.4N 8.6E", fontsize=8.2,
         fontweight="bold", va="center", ha="left")
fig.text(fx(30), fy(691), "Température 2m (°C) , précipitations (mm)", fontsize=FS,
         va="center", ha="left")
fig.text(fx(450), fy(672), "Ensemble GEFS du 29/03/2010 - 00h", fontsize=FS, va="center", ha="left")
fig.text(fx(450), fy(691), "Copyright 2010 Meteociel.fr", fontsize=8.2, fontweight="bold",
         va="center", ha="left")

fig.savefig("out.png", dpi=100, facecolor="white")
